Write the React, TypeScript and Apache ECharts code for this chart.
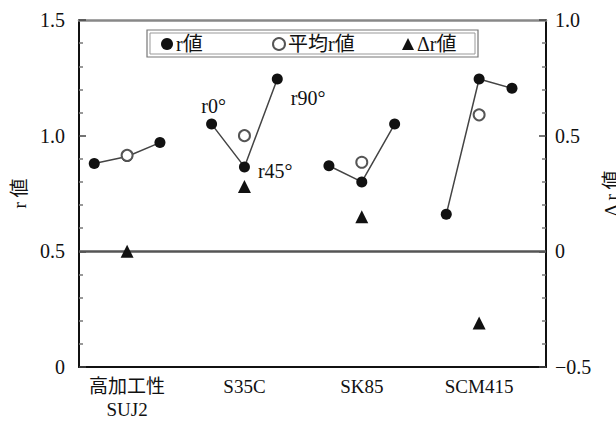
import React, { useEffect, useRef } from "react";
import * as echarts from "echarts";

const categories = ["高加工性\nSUJ2", "S35C", "SK85", "SCM415"];
const categoryPositions = [0, 1, 2, 3];
const r0 = [0.88, 1.05, 0.87, 0.66];
const r45 = [0.91, 0.865, 0.8, 1.245];
const r90 = [0.97, 1.245, 1.05, 1.205];
const rAvg = [0.915, 1.0, 0.885, 1.09];
const deltaR = [0.0, 0.28, 0.15, -0.31];
const directionLabels = ["r0°", "r45°", "r90°"];
const labelledCategory = 1;

const FONT = "'Liberation Serif', 'Noto Sans CJK JP', serif";
const TXT = "#111";
const OFF = 0.28;

export default function App() {
  const ref = useRef<HTMLDivElement>(null);
  useEffect(() => {
    if (!ref.current) return;
    const chart = echarts.init(ref.current, undefined, { renderer: "svg" });

    const labelPos: any[] = [
      { position: "top", distance: 3, offset: [2, 0] },
      { position: "right", distance: 8, offset: [0, 4] },
      { position: "right", distance: 8, offset: [0, 19] },
    ];

    const rSeries = categories.map((_, i) => ({
      name: "r値",
      type: "line",
      xAxisIndex: 0,
      yAxisIndex: 0,
      symbol: "circle",
      symbolSize: 11,
      itemStyle: { color: "#111", opacity: 1 },
      lineStyle: { color: "#444", width: 1.5 },
      z: 2,
      data: [r0[i], r45[i], r90[i]].map((v, k) => {
        const item: any = { value: [categoryPositions[i] + (k - 1) * OFF, v] };
        if (i === labelledCategory) {
          item.label = {
            show: true,
            formatter: directionLabels[k],
            color: TXT,
            fontFamily: FONT,
            fontSize: 20,
            ...labelPos[k],
          };
        }
        return item;
      }),
    }));

    const yCommon = {
      type: "value",
      interval: 0.5,
      nameLocation: "middle",
      nameRotate: 90,
      nameTextStyle: { fontFamily: FONT, fontSize: 19, color: TXT },
      axisLine: { show: true, onZero: false, lineStyle: { color: "#111", width: 2 } },
      axisTick: { show: true, inside: true, length: 7, lineStyle: { color: "#444", width: 1.5 } },
      minorTick: { show: true, splitNumber: 5, length: 4, lineStyle: { color: "#777", width: 1.5 } },
      splitLine: { show: false },
    };

    chart.setOption({
      animation: false,
      backgroundColor: "#fff",
      textStyle: { fontFamily: FONT, color: TXT },
      grid: { left: 79, right: 70, top: 20, bottom: 56, outerBoundsMode: "none" },
      legend: [
        { data: [{ name: "r値", icon: "circle" }], left: 161, top: 34 },
        { data: [{ name: "平均r値", icon: "circle" }], left: 272, top: 34 },
        { data: [{ name: "Δr値", icon: "triangle" }], left: 402, top: 34 },
      ].map((l) => ({
        ...l,
        padding: 0,
        itemWidth: 12,
        itemHeight: 12,
        selectedMode: false,
        textStyle: { fontFamily: FONT, fontSize: 20, color: TXT, padding: [0, 0, 0, -2] },
      })),
      graphic: [
        {
          type: "rect",
          shape: { x: 147, y: 30, width: 331, height: 27 },
          style: { fill: "none", stroke: "#777", lineWidth: 1.2 },
          z: 10,
        },
        {
          type: "rect",
          shape: { x: 150, y: 33, width: 325, height: 21 },
          style: { fill: "none", stroke: "#999", lineWidth: 1 },
          z: 10,
        },
      ],
      xAxis: [
        {
          type: "value",
          min: -0.41,
          max: 3.57,
          position: "bottom",
          axisLine: { show: true, onZero: false, lineStyle: { color: "#111", width: 2 } },
          axisTick: { show: false },
          splitLine: { show: false },
          axisLabel: {
            customValues: categoryPositions,
            formatter: (v: number) => categories[categoryPositions.indexOf(Math.round(v))] ?? "",
            fontFamily: FONT,
            fontSize: 19,
            color: TXT,
            lineHeight: 23,
            margin: 8,
          },
        },
        {
          type: "value",
          min: -0.41,
          max: 3.57,
          position: "top",
          axisLine: { show: true, onZero: false, lineStyle: { color: "#888", width: 2.5 } },
          axisTick: { show: false },
          axisLabel: { show: false },
          splitLine: { show: false },
        },
      ],
      yAxis: [
        {
          ...yCommon,
          min: 0,
          max: 1.5,
          position: "left",
          name: "r 値",
          nameGap: 44,
          axisLabel: {
            formatter: (v: number) => (v === 0 ? "0" : v.toFixed(1)),
            fontFamily: FONT,
            fontSize: 20,
            color: TXT,
            margin: 14,
          },
        },
        {
          ...yCommon,
          min: -0.5,
          max: 1.0,
          position: "right",
          name: "Δ r 値",
          nameGap: 42,
          axisLabel: {
            formatter: (v: number) =>
              v === 0 ? "0" : v < 0 ? "−" + Math.abs(v).toFixed(1) : v.toFixed(1),
            fontFamily: FONT,
            fontSize: 20,
            color: TXT,
            margin: 9,
          },
        },
      ],
      series: [
        ...rSeries,
        {
          name: "平均r値",
          type: "scatter",
          xAxisIndex: 0,
          yAxisIndex: 0,
          symbol: "circle",
          symbolSize: 11,
          itemStyle: { color: "#fff", borderColor: "#555", borderWidth: 2, opacity: 1 },
          z: 4,
          data: rAvg.map((v, i) => [categoryPositions[i], v]),
        },
        {
          name: "Δr値",
          type: "scatter",
          xAxisIndex: 0,
          yAxisIndex: 1,
          symbol: "triangle",
          symbolSize: [13, 13],
          itemStyle: { color: "#111", opacity: 1 },
          z: 3,
          data: deltaR.map((v, i) => [categoryPositions[i], v]),
          markLine: {
            silent: true,
            symbol: ["none", "none"],
            label: { show: false },
            lineStyle: { color: "#555", width: 2.5, type: "solid", opacity: 1 },
            data: [{ yAxis: 0 }],
            z: 1,
          },
        },
      ],
    });
    return () => chart.dispose();
  }, []);
  return (
    <div
      ref={ref}
      style={{ position: "fixed", left: 0, top: 0, width: 616, height: 423 }}
    />
  );
}
